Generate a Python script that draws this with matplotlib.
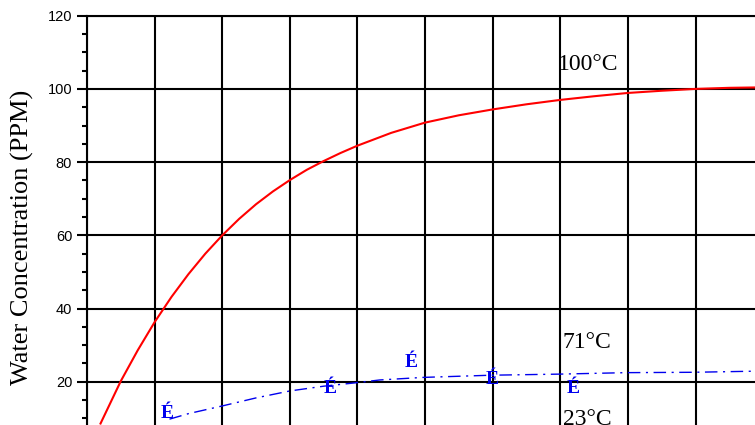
import numpy as np
import matplotlib
matplotlib.use("Agg")
import matplotlib.pyplot as plt
from matplotlib.ticker import MultipleLocator

# 100°C curve
red_x = [0.2, 0.35, 0.5, 0.75, 1.0, 1.25, 1.5, 1.75, 2.0, 2.25, 2.5, 2.75,
         3.0, 3.25, 3.5, 3.75, 4.0, 4.5, 5.0, 5.5, 6.0, 6.5, 7.0, 7.5,
         8.0, 8.5, 9.0, 9.5, 9.88]
red_y = [8.6, 14.4, 20.2, 28.6, 36.3, 43.2, 49.4, 55.0, 60.0, 64.5, 68.5, 72.0,
         75.1, 77.9, 80.3, 82.5, 84.5, 88.0, 90.8, 92.8, 94.4, 95.8, 97.0, 98.0,
         98.9, 99.5, 100.0, 100.3, 100.4]

# 71°C curve
blue_x = [1.22, 1.5, 2.0, 2.5, 3.0, 3.5, 3.96, 4.33, 4.97, 5.98, 6.99, 7.98, 8.97, 9.88]
blue_y = [9.8, 11.3, 13.4, 15.6, 17.5, 18.8, 19.7, 20.5, 21.2, 21.8, 22.1, 22.5, 22.6, 22.9]

# measured points (symbol glyphs)
pts_x = [1.18, 3.59, 4.79, 5.99, 7.19]
pts_y = [11.45, 18.3, 25.4, 20.5, 18.3]

labels = ["100°C", "71°C", "23°C"]
label_x = [7.41, 7.40, 7.40]
label_y = [106.8, 30.6, 9.6]

fig = plt.figure(figsize=(7.55, 4.25), dpi=100)
ax = fig.add_axes([87 / 755, 0, (755 - 87) / 755, (425 - 15.7) / 425])

ax.set_xlim(0, 9.88)
ax.set_ylim(8.2, 120)

ax.plot(red_x, red_y, color="#ff0000", lw=1.5, zorder=3)
ax.plot(blue_x, blue_y, color="#0000ee", lw=1.0, linestyle=(0, (9, 4, 1.5, 4)), zorder=3)
for x, y in zip(pts_x, pts_y):
    ax.text(x, y, "É", color="#0000ee", fontsize=14, fontweight="bold",
            family="Liberation Serif", ha="center", va="center", zorder=4)

for t, x, y in zip(labels, label_x, label_y):
    ax.text(x, y, t, fontsize=17, family="Liberation Serif", ha="center", va="center")

ax.xaxis.set_major_locator(MultipleLocator(1))
ax.yaxis.set_major_locator(MultipleLocator(20))
ax.yaxis.set_minor_locator(MultipleLocator(5))
ax.grid(True, which="major", color="black", lw=1.5)
ax.tick_params(axis="x", length=0, labelbottom=False)
ax.tick_params(axis="y", which="major", length=7.2, width=1.5, pad=3.5,
               labelsize=10.5, colors="black")
ax.tick_params(axis="y", which="minor", length=3.6, width=1.5)
for lab in ax.get_yticklabels():
    lab.set_family("Liberation Sans")

ax.spines["right"].set_visible(False)
ax.spines["bottom"].set_visible(False)
ax.spines["left"].set_linewidth(1.5)
ax.spines["top"].set_linewidth(1.5)

fig.text(22 / 755, 1 - 237.5 / 425, "Water Concentration (PPM)", rotation=90,
         fontsize=19, family="Liberation Serif", ha="center", va="center")

fig.savefig("out.png", dpi=100)
